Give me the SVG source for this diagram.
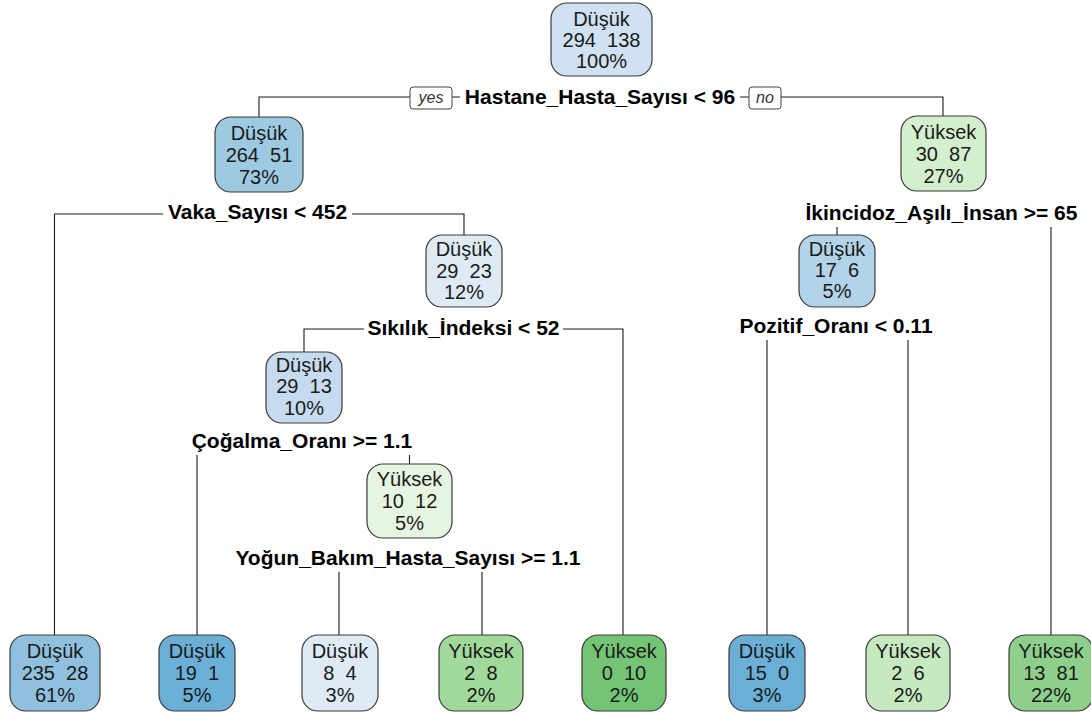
<svg xmlns="http://www.w3.org/2000/svg" width="1091" height="715" viewBox="0 0 1091 715">
  <style>
    .edge { stroke: #1a1a1a; stroke-width: 1.1; fill: none; }
    .box { stroke: #3a3a3a; stroke-width: 1.2; }
    .nt { font-family: "Liberation Sans", Arial, sans-serif; font-size: 20px; fill: #1a1a1a; text-anchor: middle; }
    .split { font-family: "Liberation Sans", Arial, sans-serif; font-size: 21px; font-weight: bold; fill: #000; text-anchor: middle; }
    .lbg { fill: #ffffff; }
    .yn { fill: #ffffff; stroke: #444; stroke-width: 1; }
    .ynt { font-family: "Liberation Sans", Arial, sans-serif; font-size: 16px; font-style: italic; fill: #333; text-anchor: middle; }
  </style>

  <rect width="1091" height="715" fill="#ffffff"/>

  <!-- branch lines -->
  <g id="connectors">
    <polyline class="edge" points="259,117 259,97 943,97 943,116"/>
    <polyline class="edge" points="54.5,635 54.5,214 464,214 464,235"/>
    <polyline class="edge" points="837,235 837,214 1051,214 1051,635"/>
    <polyline class="edge" points="304,352 304,329 623,329 623,635"/>
    <polyline class="edge" points="767,635 767,327 908,327 908,635"/>
    <polyline class="edge" points="197,635 197,442 409.5,442 409.5,464"/>
    <polyline class="edge" points="339,635 339,559 482,559 482,635"/>
  </g>

  <!-- split conditions -->
  <g id="splits">
    <g id="split-hastane">
      <rect class="lbg" x="460" y="85" width="280" height="26"/>
      <text class="split" x="600" y="104">Hastane_Hasta_Sayısı &lt; 96</text>
      <rect class="yn" x="410" y="87" width="42" height="22" rx="3"/>
      <text class="ynt" x="431" y="103">yes</text>
      <rect class="yn" x="749" y="87" width="32" height="22" rx="3"/>
      <text class="ynt" x="765" y="103">no</text>
    </g>
    <g id="split-vaka">
      <rect class="lbg" x="163" y="200" width="189" height="26"/>
      <text class="split" x="257.5" y="219">Vaka_Sayısı &lt; 452</text>
    </g>
    <g id="split-ikincidoz">
      <rect class="lbg" x="802" y="201" width="279" height="26"/>
      <text class="split" x="941.5" y="220">İkincidoz_Aşılı_İnsan &gt;= 65</text>
    </g>
    <g id="split-sikilik">
      <rect class="lbg" x="364" y="316" width="199" height="26"/>
      <text class="split" x="463.5" y="335">Sıkılık_İndeksi &lt; 52</text>
    </g>
    <g id="split-pozitif">
      <rect class="lbg" x="736" y="314" width="200" height="26"/>
      <text class="split" x="836" y="333">Pozitif_Oranı &lt; 0.11</text>
    </g>
    <g id="split-cogalma">
      <rect class="lbg" x="188" y="429" width="228" height="26"/>
      <text class="split" x="302" y="448">Çoğalma_Oranı &gt;= 1.1</text>
    </g>
    <g id="split-yogun">
      <rect class="lbg" x="230" y="546" width="356" height="26"/>
      <text class="split" x="408" y="565">Yoğun_Bakım_Hasta_Sayısı &gt;= 1.1</text>
    </g>
  </g>

  <!-- internal nodes -->
  <g id="node-1">
    <rect class="box" x="551" y="3" width="101" height="73" rx="16" fill="#cfe1f2"/>
    <text class="nt" x="601.5" y="26">Düşük</text>
    <text class="nt" x="601.5" y="47" xml:space="preserve">294  138</text>
    <text class="nt" x="601.5" y="68">100%</text>
  </g>
  <g id="node-2">
    <rect class="box" x="215" y="117" width="88" height="75" rx="16" fill="#9ecae1"/>
    <text class="nt" x="259" y="140">Düşük</text>
    <text class="nt" x="259" y="162" xml:space="preserve">264  51</text>
    <text class="nt" x="259" y="184">73%</text>
  </g>
  <g id="node-3">
    <rect class="box" x="901" y="116" width="85" height="75" rx="16" fill="#d4efcd"/>
    <text class="nt" x="943.5" y="139">Yüksek</text>
    <text class="nt" x="943.5" y="161" xml:space="preserve">30  87</text>
    <text class="nt" x="943.5" y="183">27%</text>
  </g>
  <g id="node-5">
    <rect class="box" x="426" y="235" width="76" height="72" rx="16" fill="#deebf7"/>
    <text class="nt" x="464" y="256">Düşük</text>
    <text class="nt" x="464" y="278" xml:space="preserve">29  23</text>
    <text class="nt" x="464" y="299">12%</text>
  </g>
  <g id="node-6">
    <rect class="box" x="799" y="235" width="76" height="72" rx="16" fill="#b3d3e8"/>
    <text class="nt" x="837" y="256">Düşük</text>
    <text class="nt" x="837" y="277" xml:space="preserve">17  6</text>
    <text class="nt" x="837" y="298">5%</text>
  </g>
  <g id="node-10">
    <rect class="box" x="266" y="352" width="76" height="71" rx="16" fill="#c6dbef"/>
    <text class="nt" x="304" y="372">Düşük</text>
    <text class="nt" x="304" y="393" xml:space="preserve">29  13</text>
    <text class="nt" x="304" y="415">10%</text>
  </g>
  <g id="node-21">
    <rect class="box" x="367" y="464" width="85" height="74" rx="16" fill="#e5f5e0"/>
    <text class="nt" x="409.5" y="486">Yüksek</text>
    <text class="nt" x="409.5" y="508" xml:space="preserve">10  12</text>
    <text class="nt" x="409.5" y="530">5%</text>
  </g>

  <!-- leaves -->
  <g id="leaf-4">
    <rect class="box" x="10" y="635" width="90" height="76" rx="16" fill="#8fc1de"/>
    <text class="nt" x="55" y="658">Düşük</text>
    <text class="nt" x="55" y="680" xml:space="preserve">235  28</text>
    <text class="nt" x="55" y="702">61%</text>
  </g>
  <g id="leaf-20">
    <rect class="box" x="159" y="635" width="76" height="76" rx="16" fill="#6baed6"/>
    <text class="nt" x="197" y="658">Düşük</text>
    <text class="nt" x="197" y="680" xml:space="preserve">19  1</text>
    <text class="nt" x="197" y="702">5%</text>
  </g>
  <g id="leaf-42">
    <rect class="box" x="302" y="635" width="76" height="76" rx="16" fill="#deebf7"/>
    <text class="nt" x="340" y="658">Düşük</text>
    <text class="nt" x="340" y="680" xml:space="preserve">8  4</text>
    <text class="nt" x="340" y="702">3%</text>
  </g>
  <g id="leaf-43">
    <rect class="box" x="439" y="635" width="84" height="76" rx="16" fill="#a1d99b"/>
    <text class="nt" x="481" y="658">Yüksek</text>
    <text class="nt" x="481" y="680" xml:space="preserve">2  8</text>
    <text class="nt" x="481" y="702">2%</text>
  </g>
  <g id="leaf-11">
    <rect class="box" x="582" y="635" width="84" height="76" rx="16" fill="#74c476"/>
    <text class="nt" x="624" y="658">Yüksek</text>
    <text class="nt" x="624" y="680" xml:space="preserve">0  10</text>
    <text class="nt" x="624" y="702">2%</text>
  </g>
  <g id="leaf-12">
    <rect class="box" x="729" y="635" width="76" height="76" rx="16" fill="#6baed6"/>
    <text class="nt" x="767" y="658">Düşük</text>
    <text class="nt" x="767" y="680" xml:space="preserve">15  0</text>
    <text class="nt" x="767" y="702">3%</text>
  </g>
  <g id="leaf-13">
    <rect class="box" x="866" y="635" width="84" height="76" rx="16" fill="#c7e9c0"/>
    <text class="nt" x="908" y="658">Yüksek</text>
    <text class="nt" x="908" y="680" xml:space="preserve">2  6</text>
    <text class="nt" x="908" y="702">2%</text>
  </g>
  <g id="leaf-7">
    <rect class="box" x="1009" y="635" width="84" height="76" rx="16" fill="#8ed08b"/>
    <text class="nt" x="1051" y="658">Yüksek</text>
    <text class="nt" x="1051" y="680" xml:space="preserve">13  81</text>
    <text class="nt" x="1051" y="702">22%</text>
  </g>
</svg>
